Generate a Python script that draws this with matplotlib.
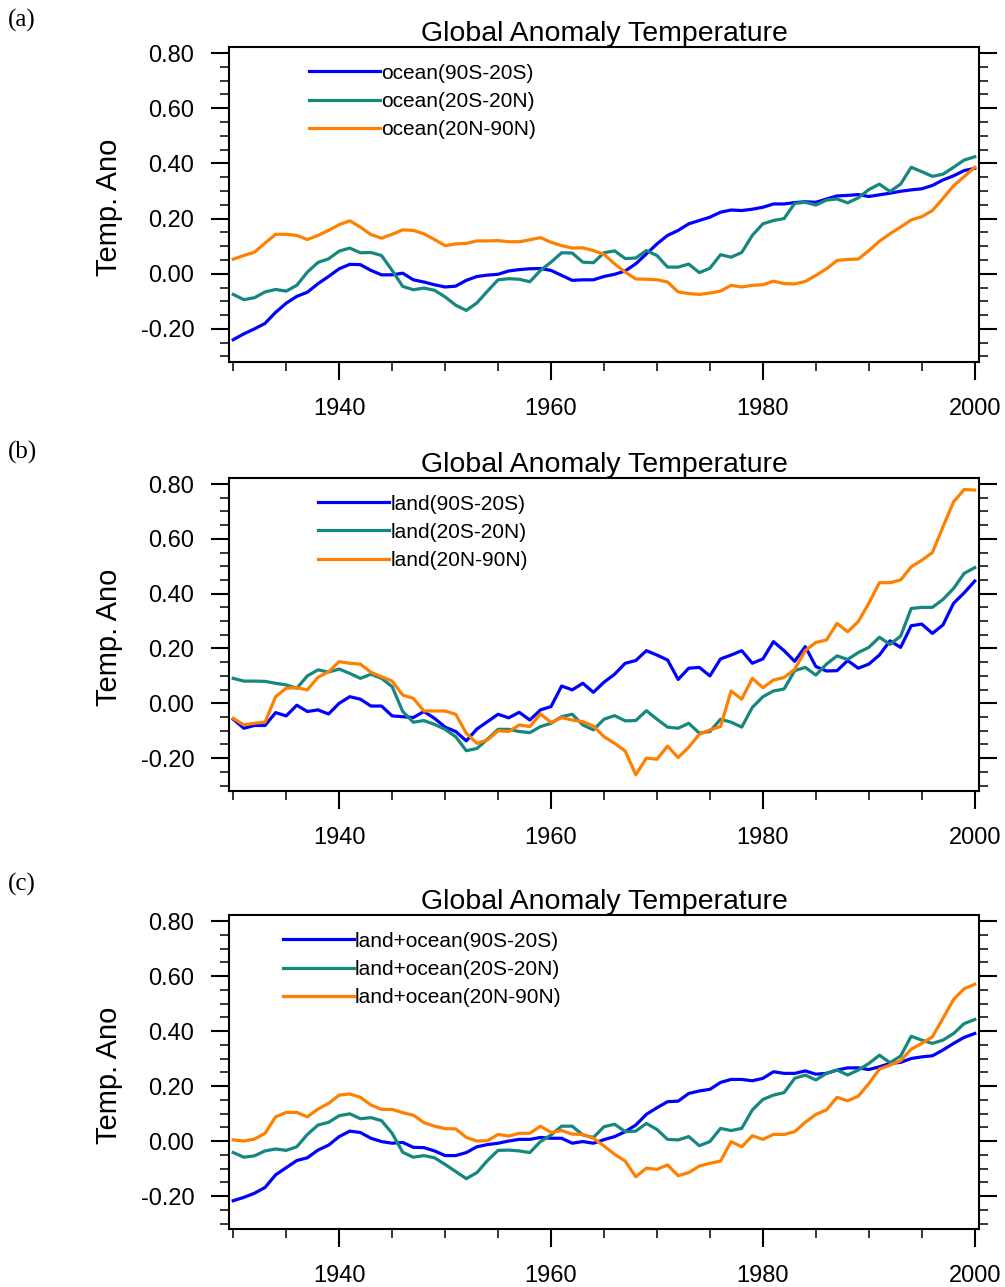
"""Global anomaly temperature, three panels: ocean, land, land+ocean by latitude band."""
import matplotlib

matplotlib.use("Agg")
import matplotlib.pyplot as plt
from matplotlib.ticker import FormatStrFormatter, MultipleLocator

plt.rcParams["font.family"] = ["Liberation Sans", "DejaVu Sans"]
plt.rcParams["axes.unicode_minus"] = False

YEARS = list(range(1930, 2001))
BANDS = ["90S-20S", "20S-20N", "20N-90N"]
PANEL_TAGS = ["(a)", "(b)", "(c)"]
PANEL_NAMES = ["ocean", "land", "land+ocean"]

# panel (a): ocean
ocean_sh = [
    -0.239, -0.218, -0.200, -0.180, -0.140, -0.107, -0.082, -0.067, -0.036, -0.010,
    0.018, 0.034, 0.033, 0.012, -0.004, -0.004, 0.002, -0.022, -0.030, -0.040,
    -0.048, -0.045, -0.024, -0.010, -0.005, -0.002, 0.010, 0.015, 0.018, 0.019,
    0.012, -0.006, -0.024, -0.022, -0.022, -0.010, -0.002, 0.010, 0.036, 0.072,
    0.108, 0.139, 0.157, 0.181, 0.193, 0.205, 0.223, 0.231, 0.229, 0.234,
    0.241, 0.253, 0.253, 0.258, 0.261, 0.259, 0.271, 0.282, 0.284, 0.287,
    0.280, 0.286, 0.292, 0.299, 0.304, 0.308, 0.320, 0.340, 0.355, 0.374, 0.382,
]
ocean_tr = [
    -0.075, -0.094, -0.087, -0.066, -0.057, -0.063, -0.042, 0.006, 0.041, 0.054,
    0.082, 0.093, 0.076, 0.077, 0.066, 0.012, -0.046, -0.058, -0.052, -0.060,
    -0.084, -0.114, -0.133, -0.106, -0.063, -0.022, -0.018, -0.020, -0.029, 0.012,
    0.042, 0.076, 0.075, 0.042, 0.040, 0.076, 0.083, 0.055, 0.057, 0.084,
    0.066, 0.024, 0.024, 0.035, 0.004, 0.020, 0.069, 0.060, 0.077, 0.139,
    0.181, 0.193, 0.200, 0.255, 0.259, 0.249, 0.267, 0.271, 0.257, 0.275,
    0.305, 0.325, 0.298, 0.325, 0.386, 0.370, 0.353, 0.361, 0.386, 0.412, 0.424,
]
ocean_nh = [
    0.053, 0.066, 0.078, 0.111, 0.143, 0.143, 0.139, 0.124, 0.139, 0.157,
    0.178, 0.192, 0.169, 0.142, 0.129, 0.143, 0.159, 0.157, 0.145, 0.124,
    0.102, 0.108, 0.110, 0.119, 0.119, 0.120, 0.116, 0.116, 0.123, 0.131,
    0.114, 0.102, 0.093, 0.094, 0.084, 0.070, 0.036, 0.006, -0.019, -0.020,
    -0.022, -0.030, -0.066, -0.072, -0.075, -0.070, -0.063, -0.042, -0.048, -0.042,
    -0.040, -0.027, -0.036, -0.037, -0.028, -0.006, 0.018, 0.048, 0.052, 0.053,
    0.084, 0.118, 0.145, 0.169, 0.195, 0.207, 0.229, 0.273, 0.319, 0.352, 0.386,
]

# panel (b): land
land_sh = [
    -0.058, -0.091, -0.081, -0.081, -0.034, -0.046, -0.007, -0.030, -0.024, -0.039,
    0.000, 0.024, 0.015, -0.010, -0.010, -0.046, -0.049, -0.052, -0.030, -0.055,
    -0.087, -0.103, -0.137, -0.094, -0.067, -0.040, -0.053, -0.033, -0.061, -0.024,
    -0.012, 0.063, 0.049, 0.073, 0.040, 0.077, 0.106, 0.146, 0.156, 0.192,
    0.176, 0.158, 0.087, 0.128, 0.131, 0.100, 0.162, 0.176, 0.192, 0.146,
    0.162, 0.225, 0.192, 0.153, 0.207, 0.134, 0.118, 0.119, 0.156, 0.128,
    0.143, 0.176, 0.228, 0.204, 0.283, 0.289, 0.255, 0.286, 0.365, 0.403, 0.446,
]
land_tr = [
    0.091, 0.081, 0.081, 0.080, 0.073, 0.067, 0.055, 0.100, 0.122, 0.114,
    0.125, 0.109, 0.091, 0.106, 0.091, 0.061, -0.030, -0.069, -0.063, -0.077,
    -0.095, -0.122, -0.173, -0.165, -0.131, -0.095, -0.095, -0.103, -0.107, -0.085,
    -0.073, -0.049, -0.040, -0.079, -0.097, -0.058, -0.045, -0.064, -0.063, -0.027,
    -0.058, -0.087, -0.091, -0.073, -0.109, -0.103, -0.058, -0.069, -0.087, -0.015,
    0.024, 0.045, 0.052, 0.119, 0.131, 0.103, 0.143, 0.173, 0.160, 0.185,
    0.204, 0.241, 0.215, 0.245, 0.346, 0.350, 0.350, 0.379, 0.419, 0.474, 0.495,
]
land_nh = [
    -0.055, -0.079, -0.073, -0.069, 0.024, 0.055, 0.057, 0.049, 0.095, 0.115,
    0.152, 0.146, 0.143, 0.113, 0.097, 0.081, 0.030, 0.018, -0.028, -0.028,
    -0.028, -0.040, -0.109, -0.146, -0.134, -0.100, -0.103, -0.079, -0.085, -0.039,
    -0.070, -0.052, -0.061, -0.067, -0.083, -0.122, -0.146, -0.174, -0.261, -0.200,
    -0.204, -0.156, -0.198, -0.160, -0.113, -0.097, -0.085, 0.045, 0.015, 0.091,
    0.057, 0.085, 0.094, 0.124, 0.192, 0.222, 0.231, 0.292, 0.261, 0.298,
    0.365, 0.440, 0.440, 0.450, 0.498, 0.522, 0.550, 0.644, 0.735, 0.780, 0.778,
]

# panel (c): land+ocean
all_sh = [
    -0.217, -0.205, -0.190, -0.169, -0.123, -0.097, -0.071, -0.061, -0.033, -0.015,
    0.016, 0.036, 0.031, 0.010, -0.002, -0.008, -0.005, -0.023, -0.024, -0.036,
    -0.053, -0.053, -0.042, -0.021, -0.013, -0.008, 0.000, 0.006, 0.006, 0.013,
    0.010, 0.010, -0.008, -0.002, -0.008, 0.005, 0.016, 0.034, 0.058, 0.097,
    0.121, 0.143, 0.145, 0.173, 0.182, 0.188, 0.213, 0.224, 0.224, 0.219,
    0.228, 0.252, 0.246, 0.246, 0.255, 0.243, 0.246, 0.258, 0.266, 0.266,
    0.260, 0.270, 0.282, 0.286, 0.300, 0.306, 0.310, 0.331, 0.355, 0.377, 0.391,
]
all_tr = [
    -0.042, -0.059, -0.054, -0.036, -0.029, -0.034, -0.021, 0.024, 0.058, 0.068,
    0.092, 0.099, 0.081, 0.085, 0.074, 0.028, -0.041, -0.059, -0.053, -0.061,
    -0.085, -0.111, -0.137, -0.115, -0.071, -0.034, -0.033, -0.036, -0.042, -0.002,
    0.022, 0.054, 0.054, 0.022, 0.013, 0.052, 0.061, 0.034, 0.036, 0.064,
    0.042, 0.006, 0.004, 0.016, -0.017, -0.002, 0.046, 0.038, 0.046, 0.113,
    0.151, 0.167, 0.176, 0.228, 0.240, 0.222, 0.246, 0.258, 0.240, 0.258,
    0.282, 0.312, 0.285, 0.309, 0.381, 0.367, 0.355, 0.367, 0.391, 0.427, 0.442,
]
all_nh = [
    0.004, 0.000, 0.007, 0.028, 0.088, 0.104, 0.104, 0.088, 0.116, 0.137,
    0.167, 0.171, 0.159, 0.131, 0.115, 0.115, 0.103, 0.094, 0.067, 0.054,
    0.045, 0.044, 0.013, 0.000, 0.001, 0.024, 0.018, 0.028, 0.028, 0.054,
    0.031, 0.038, 0.025, 0.024, 0.010, -0.018, -0.048, -0.073, -0.130, -0.099,
    -0.103, -0.087, -0.126, -0.115, -0.091, -0.081, -0.073, -0.002, -0.021, 0.019,
    0.006, 0.024, 0.024, 0.034, 0.068, 0.097, 0.113, 0.159, 0.146, 0.163,
    0.209, 0.262, 0.276, 0.292, 0.334, 0.355, 0.379, 0.446, 0.515, 0.554, 0.570,
]

PANELS = [
    (ocean_sh, ocean_tr, ocean_nh),
    (land_sh, land_tr, land_nh),
    (all_sh, all_tr, all_nh),
]
COLORS = ["#0000ff", "#15877f", "#ff8000"]

W, H = 1005, 1287
# axes boxes in pixels (left, top, right, bottom) and legend anchors
BOXES = [(229, 47, 979, 362), (229, 478, 979, 791), (229, 915, 979, 1229)]
LEG_X = [0.107, 0.119, 0.072]
TAG_Y = [20, 452, 884]


def style_axes(ax):
    ax.set_xlim(1929.6, 2000.4)
    ax.set_ylim(-0.32, 0.822)
    ax.xaxis.set_major_locator(MultipleLocator(20))
    ax.xaxis.set_minor_locator(MultipleLocator(5))
    ax.yaxis.set_major_locator(MultipleLocator(0.2))
    ax.yaxis.set_minor_locator(MultipleLocator(0.05))
    ax.yaxis.set_major_formatter(FormatStrFormatter("%.2f"))
    for s in ax.spines.values():
        s.set_linewidth(1.5)
    ax.tick_params(which="both", direction="out", top=False, right=True,
                   labelright=False)
    ax.tick_params(which="major", length=13, width=1.5, labelsize=17)
    ax.tick_params(which="minor", length=6.5, width=1.1)
    ax.tick_params(axis="y", which="major", pad=12)
    ax.tick_params(axis="x", which="major", pad=13)


def main():
    fig = plt.figure(figsize=(W / 100, H / 100), dpi=100)
    for i, series in enumerate(PANELS):
        l, t, r, b = BOXES[i]
        ax = fig.add_axes([l / W, 1 - b / H, (r - l) / W, (b - t) / H])
        for vals, band, c in zip(series, BANDS, COLORS):
            ax.plot(YEARS, vals, color=c, linewidth=2.3,
                    label=f"{PANEL_NAMES[i]}({band})")
        style_axes(ax)
        ax.set_title("Global Anomaly Temperature", fontsize=20.5, pad=2)
        ax.set_ylabel("Temp. Ano", fontsize=21)
        ax.yaxis.set_label_coords(-0.142, 0.49)
        ax.legend(loc="upper left", bbox_to_anchor=(LEG_X[i], 0.947),
                  frameon=False, fontsize=15, handlelength=3.4,
                  handletextpad=0.05, labelspacing=0.44, borderpad=0,
                  borderaxespad=0)
        fig.text(0.008, 1 - TAG_Y[i] / H, PANEL_TAGS[i], fontsize=18,
                 family="Liberation Serif", va="center", ha="left")
    fig.savefig("out.png", dpi=100)


if __name__ == "__main__":
    main()
